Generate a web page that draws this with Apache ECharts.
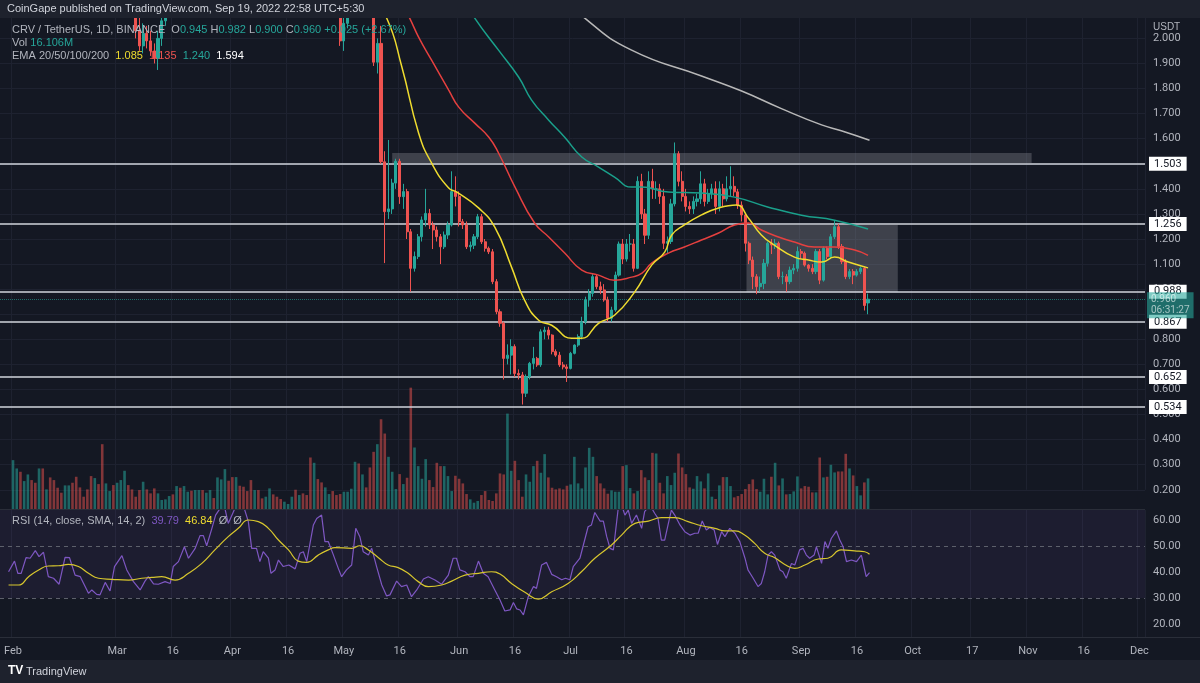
<!DOCTYPE html>
<html>
<head>
<meta charset="utf-8">
<script src="https://cdn.jsdelivr.net/npm/echarts@6/dist/echarts.min.js"></script>
<style>
  html, body { margin: 0; padding: 0; background: #1e222d; }
  #chart { width: 1200px; height: 683px; }
</style>
</head>
<body>
<div id="chart"></div>
<script>
// daily axis: 29 Jan 2022 .. 2 Dec 2022
var categories = [];
for (var i = 0; i < 308; i++) {
  categories.push(new Date(Date.UTC(2022, 0, 29) + i * 864e5).toISOString().slice(0, 10));
}
var firstCandle = 3; // 2022-02-01

var tickLabels = {
  '2022-02-01': 'Feb', '2022-03-01': 'Mar', '2022-03-16': '16', '2022-04-01': 'Apr', '2022-04-16': '16',
  '2022-05-01': 'May', '2022-05-16': '16', '2022-06-01': 'Jun', '2022-06-16': '16', '2022-07-01': 'Jul',
  '2022-07-16': '16', '2022-08-01': 'Aug', '2022-08-16': '16', '2022-09-01': 'Sep', '2022-09-16': '16',
  '2022-10-01': 'Oct', '2022-10-17': '17', '2022-11-01': 'Nov', '2022-11-16': '16', '2022-12-01': 'Dec'
};

// [open, close, low, high] from 1 Feb
var candles = [
  [2.90,3.00,2.85,3.05],[3.00,3.10,2.95,3.15],[3.10,2.95,2.90,3.15],[2.95,3.05,2.90,3.10],[3.05,3.20,3.00,3.25],
  [3.20,3.15,3.10,3.30],[3.15,3.10,3.00,3.25],[3.10,3.35,3.05,3.40],[3.35,3.25,3.20,3.45],[3.25,3.40,3.20,3.50],
  [3.40,3.20,3.10,3.45],[3.20,3.00,2.95,3.25],[3.00,2.85,2.80,3.05],[2.85,2.75,2.70,2.90],[2.75,2.95,2.70,3.00],
  [2.95,3.05,2.90,3.10],[3.05,2.85,2.80,3.10],[2.85,2.70,2.60,2.90],[2.70,2.60,2.55,2.75],[2.60,2.50,2.45,2.65],
  [2.50,2.45,2.35,2.55],[2.45,2.40,2.30,2.50],[2.40,2.55,2.35,2.60],[2.55,2.20,2.12,2.60],[2.20,2.15,2.10,2.35],
  [2.15,2.30,2.12,2.35],[2.30,2.40,2.25,2.45],[2.40,2.30,2.25,2.45],[2.30,2.45,2.25,2.50],[2.45,2.55,2.40,2.60],
  [2.55,2.60,2.50,2.65],[2.60,2.40,2.35,2.62],[2.40,2.25,2.20,2.42],[2.25,2.03,2.00,2.28],[2.03,1.97,1.95,2.10],
  [1.97,2.02,1.94,2.06],[2.02,1.99,1.96,2.05],[1.99,1.95,1.93,2.03],[1.95,1.92,1.90,1.98],[1.92,2.00,1.874,2.03],
  [2.00,2.07,1.97,2.10],[2.07,2.20,2.05,2.25],[2.20,2.25,2.15,2.30],[2.25,2.22,2.15,2.30],[2.22,2.35,2.20,2.40],
  [2.35,2.30,2.25,2.40],[2.30,2.45,2.28,2.50],[2.45,2.50,2.40,2.55],[2.50,2.45,2.40,2.55],[2.45,2.55,2.40,2.60],
  [2.55,2.60,2.50,2.65],[2.60,2.55,2.50,2.65],[2.55,2.70,2.50,2.75],[2.70,2.75,2.65,2.80],[2.75,2.65,2.60,2.80],
  [2.65,2.80,2.60,2.85],[2.80,2.85,2.75,2.90],[2.85,2.90,2.80,2.95],[2.90,2.80,2.75,2.95],[2.80,2.70,2.65,2.85],
  [2.70,2.75,2.65,2.80],[2.75,2.65,2.60,2.80],[2.65,2.55,2.50,2.70],[2.55,2.50,2.45,2.60],[2.50,2.40,2.35,2.55],
  [2.40,2.45,2.35,2.50],[2.45,2.35,2.30,2.50],[2.35,2.30,2.25,2.40],[2.30,2.35,2.25,2.40],[2.35,2.40,2.30,2.45],
  [2.40,2.38,2.33,2.45],[2.38,2.30,2.25,2.42],[2.30,2.28,2.22,2.35],[2.28,2.40,2.25,2.45],[2.40,2.45,2.35,2.50],
  [2.45,2.50,2.40,2.55],[2.50,2.42,2.38,2.55],[2.42,2.45,2.38,2.50],[2.45,2.40,2.35,2.50],[2.40,2.35,2.30,2.45],
  [2.35,2.30,2.25,2.40],[2.30,2.35,2.25,2.40],[2.35,2.25,2.20,2.40],[2.25,2.20,2.15,2.30],[2.20,2.25,2.15,2.30],
  [2.25,2.30,2.20,2.35],[2.30,2.20,2.15,2.35],[2.20,2.15,2.12,2.25],[2.15,1.99,1.97,2.20],[1.99,2.06,1.95,2.10],
  [2.06,2.15,2.04,2.20],[2.15,2.25,2.12,2.30],[2.25,2.30,2.20,2.35],[2.30,2.20,2.15,2.35],[2.20,2.25,2.15,2.30],
  [2.25,2.18,2.13,2.28],[2.18,2.15,2.12,2.22],[2.15,1.905,1.89,2.20],[1.905,1.98,1.86,2.00],[1.98,1.508,1.50,2.05],
  [1.508,1.309,1.104,1.55],[1.309,1.32,1.28,1.595],[1.32,1.423,1.30,1.44],[1.423,1.51,1.40,1.52],[1.51,1.369,1.34,1.52],
  [1.369,1.389,1.32,1.42],[1.389,1.229,1.20,1.40],[1.229,1.083,0.99,1.24],[1.083,1.13,1.07,1.15],[1.13,1.209,1.12,1.22],
  [1.209,1.276,1.19,1.29],[1.276,1.302,1.25,1.40],[1.302,1.256,1.24,1.32],[1.256,1.236,1.16,1.27],[1.236,1.209,1.19,1.25],
  [1.209,1.169,1.10,1.22],[1.169,1.216,1.16,1.23],[1.216,1.256,1.20,1.27],[1.256,1.389,1.25,1.47],[1.389,1.37,1.33,1.45],
  [1.37,1.269,1.25,1.39],[1.269,1.256,1.24,1.28],[1.256,1.169,1.16,1.27],[1.169,1.175,1.15,1.19],[1.175,1.209,1.16,1.22],
  [1.209,1.289,1.20,1.30],[1.289,1.189,1.18,1.30],[1.189,1.163,1.15,1.20],[1.163,1.149,1.14,1.17],[1.149,1.030,1.02,1.16],
  [1.030,0.910,0.90,1.04],[0.910,0.864,0.85,0.92],[0.864,0.724,0.64,0.87],[0.724,0.737,0.70,0.78],[0.737,0.771,0.66,0.80],
  [0.771,0.664,0.65,0.78],[0.664,0.658,0.64,0.68],[0.658,0.585,0.54,0.67],[0.585,0.651,0.57,0.66],[0.651,0.704,0.64,0.71],
  [0.704,0.724,0.68,0.77],[0.724,0.698,0.69,0.73],[0.698,0.830,0.69,0.84],[0.830,0.837,0.80,0.85],[0.837,0.817,0.80,0.85],
  [0.817,0.751,0.74,0.82],[0.751,0.737,0.73,0.76],[0.737,0.698,0.69,0.75],[0.698,0.69,0.68,0.71],[0.69,0.684,0.63,0.70],
  [0.684,0.744,0.68,0.75],[0.744,0.777,0.74,0.78],[0.777,0.811,0.77,0.82],[0.811,0.870,0.80,0.89],[0.870,0.957,0.86,0.97],
  [0.957,0.983,0.93,1.00],[0.983,1.050,0.97,1.06],[1.050,1.010,1.00,1.06],[1.010,0.997,0.98,1.03],[0.997,0.957,0.95,1.02],
  [0.957,0.884,0.87,0.97],[0.884,0.917,0.87,0.93],[0.917,1.056,0.91,1.07],[1.056,1.18,1.05,1.19],[1.18,1.12,1.10,1.20],
  [1.12,1.18,1.11,1.20],[1.18,1.18,1.15,1.22],[1.18,1.083,1.07,1.20],[1.083,1.43,1.08,1.45],[1.43,1.30,1.28,1.46],
  [1.30,1.215,1.18,1.32],[1.215,1.43,1.20,1.47],[1.43,1.40,1.36,1.48],[1.40,1.40,1.36,1.43],[1.40,1.37,1.34,1.42],
  [1.37,1.183,1.16,1.40],[1.183,1.19,1.14,1.21],[1.19,1.34,1.18,1.36],[1.34,1.54,1.33,1.585],[1.54,1.43,1.41,1.55],
  [1.43,1.37,1.35,1.47],[1.37,1.33,1.31,1.40],[1.33,1.32,1.30,1.35],[1.32,1.35,1.30,1.37],[1.35,1.36,1.33,1.38],
  [1.36,1.42,1.34,1.47],[1.42,1.35,1.33,1.44],[1.35,1.38,1.34,1.40],[1.38,1.40,1.36,1.42],[1.40,1.33,1.30,1.43],
  [1.33,1.40,1.31,1.43],[1.40,1.36,1.33,1.42],[1.36,1.40,1.35,1.45],[1.40,1.41,1.37,1.49],[1.41,1.388,1.37,1.45],
  [1.388,1.335,1.32,1.40],[1.335,1.296,1.27,1.35],[1.296,1.183,1.15,1.30],[1.183,1.116,1.10,1.19],[1.116,1.05,1.00,1.13],
  [1.05,1.01,0.98,1.06],[1.01,1.023,0.99,1.05],[1.023,1.103,1.00,1.12],[1.103,1.183,1.09,1.19],[1.183,1.176,1.14,1.20],
  [1.176,1.183,1.16,1.20],[1.183,1.05,1.04,1.19],[1.05,1.05,1.02,1.07],[1.05,1.03,0.99,1.06],[1.03,1.076,1.02,1.09],
  [1.076,1.083,1.06,1.10],[1.083,1.15,1.07,1.17],[1.15,1.143,1.12,1.16],[1.143,1.096,1.09,1.15],[1.096,1.083,1.07,1.10],
  [1.083,1.07,1.06,1.10],[1.07,1.15,1.06,1.16],[1.15,1.036,1.02,1.16],[1.036,1.163,1.03,1.17],[1.163,1.13,1.12,1.17],
  [1.13,1.209,1.12,1.22],[1.209,1.249,1.20,1.275],[1.249,1.17,1.16,1.26],[1.17,1.11,1.10,1.18],[1.11,1.05,1.04,1.12],
  [1.05,1.07,1.04,1.08],[1.07,1.056,1.02,1.08],[1.056,1.07,1.05,1.08],[1.07,1.083,1.06,1.09],[1.083,0.935,0.915,1.09],
  [0.945,0.960,0.900,0.982]
];

// volume
var volume = [
  150,125,115,87,107,90,82,125,125,62, 98,90,67,52,74,74,82,100,68,40, 62,102,96,78,198,80,57,75,82,90,
  118,75,62,40,60,85,62,50,65,50, 30,32,42,47,72,67,72,55,58,60, 60,60,52,60,36,98,92,123,88,99,
  99,73,70,57,90,60,60,35,40,65, 47,40,33,25,18,40,61,45,50,45, 158,142,93,83,68,48,57,45,48,55,
  55,64,145,140,107,68,128,175,198,273, 230,160,115,63,108,78,97,368,188,132, 94,153,90,69,142,132,
  132,102,57,103,94,80,48,32,22,27, 45,57,30,27,50,110,107,290,118,148, 90,40,107,85,132,148,112,168,98,67,
  62,65,62,73,77,160,80,65,128,187, 160,102,80,65,49,59,55,55,132,135, 66,50,57,120,98,90,172,170,82,50,
  102,75,112,170,128,108,68,64,102,86, 65,110,40,33,74,99,99,72,38,42, 48,63,78,92,63,55,94,47,100,142,
  74,95,47,48,56,101,65,72,70,53, 53,158,98,100,136,113,116,116,169,125, 104,72,44,83,95
];

// EMA lines [day slot, price]
var ema20 = [[98,2.2],[103.5,2.081],[107.6,1.886],[112.1,1.623],[115.6,1.503],[120.2,1.403],[122.4,1.387],[128.3,1.323],[132.6,1.247],[137.1,1.088],[140.6,0.956],[144.4,0.876],[147.9,0.856],[153.3,0.804],[155.9,0.804],[160.5,0.864],[164.8,0.896],[170.2,0.988],[174.8,1.096],[178.3,1.148],[180.2,1.216],[183.6,1.256],[188.2,1.296],[192.8,1.324],[197.6,1.336],[200.8,1.284],[204.3,1.216],[207.8,1.176],[213.2,1.128],[217,1.116],[220.5,1.108],[224,1.128],[227.7,1.108],[233,1.085]];
var ema50 = [[104,2.25],[109.7,2.081],[112.1,2.005],[115.6,1.913],[120.2,1.794],[122.9,1.726],[127.2,1.662],[131,1.606],[133.6,1.543],[138,1.408],[143.3,1.264],[147.1,1.208],[151.4,1.144],[156,1.076],[160.5,1.056],[164.8,1.036],[169.4,1.048],[172.2,1.064],[174.8,1.104],[179.3,1.144],[183.6,1.168],[188.2,1.196],[192.8,1.224],[197.1,1.256],[200.8,1.264],[204.3,1.236],[208.9,1.208],[213.2,1.188],[218.6,1.168],[224,1.168],[229.4,1.156],[233,1.135]];
var ema100 = [[120,2.25],[127.2,2.081],[133.6,1.953],[139,1.846],[142.5,1.754],[147.1,1.674],[151.4,1.606],[156,1.527],[160.5,1.487],[164.8,1.447],[169.4,1.407],[172.1,1.407],[179.3,1.387],[188.2,1.383],[197.1,1.367],[206.2,1.327],[215.1,1.295],[224,1.275],[233,1.240]];
var ema200 = [[145,2.25],[156.8,2.081],[169.4,1.953],[188.2,1.85],[199,1.79],[209.7,1.72],[220.5,1.655],[225.8,1.632],[233.4,1.594]];

var rsi = [[1.8,40.1],[3.4,44.2],[4.3,39.5],[5.2,39.5],[6.5,45.5],[7.6,45.3],[9,48.2],[10,45.9],[11.2,47.6],[12.5,38.2],[13.9,37.6],[15.4,35.3],[17,45.6],[18.2,45.5],[19.7,38.8],[21.1,38.2],[23.3,31.8],[24.2,33.1],[25.5,31.4],[26.4,31.2],[27.8,36],[29.1,32.7],[30.3,42.1],[32.3,46.3],[33.6,40.8],[35.4,36.3],[37.2,33.1],[38.5,36.5],[39.4,38.2],[40.8,35.4],[42.1,35.3],[43.9,36.3],[45.3,35.6],[46.1,42.1],[47.5,44],[49.1,49.7],[50.2,45.3],[52,49.1],[53.3,54],[54.2,54],[55.1,50.1],[56.5,56.8],[57.5,61.9],[58.4,63.8],[59.6,67],[60.9,58.7],[62.7,64.5],[64.5,67.7],[66.3,59.4],[67.2,49.1],[68.5,49.1],[69.4,44],[70.3,47.8],[71.7,45.3],[72.4,39.5],[73.5,40.8],[74.4,44.6],[75.7,42.1],[77.2,42.7],[78.9,41.2],[80.2,47.2],[81.1,47.8],[82,44],[83.8,58.1],[84.7,60.6],[86,61.9],[86.9,51.7],[87.8,51.7],[89.2,46.5],[90.5,41.4],[91.4,38.2],[92.7,40.8],[94.1,42.7],[95.2,56.8],[96.3,53.6],[97.2,47.8],[98.6,46.5],[99.5,49.1],[100.8,42.1],[102.2,35],[103.5,30.8],[104.4,31.2],[106.2,36.5],[107.5,34.4],[108.9,35],[110.2,30.5],[111.6,33.1],[113.4,37.3],[114.7,38.2],[116.5,36.9],[118.3,35.3],[120.1,38.8],[121.4,45.3],[122.3,45.3],[123.2,40.8],[124.6,40.1],[125.9,38.2],[126.8,38.2],[128.2,44.2],[129.5,39.5],[130.8,38.2],[132.6,33.1],[134,29.2],[135.3,25],[136.7,25.4],[137.6,28.3],[138.5,25.8],[139.4,25.4],[140.3,23.5],[141.6,30.5],[143,34.4],[143.8,33.7],[145.2,42.7],[146.5,43.7],[147.9,39.1],[149.2,38.2],[150.6,37],[151.6,37.6],[152.8,37],[153.7,42.1],[155.5,45.3],[157.7,57.4],[158.6,58.1],[159.5,62.9],[160.9,59.6],[161.8,59.6],[162.7,53.6],[163.6,49.1],[164.5,48.5],[165.8,64.5],[166.7,65.8],[167.6,61.9],[168.5,63.8],[169.4,58.7],[170.7,61.9],[172.1,56.8],[172.9,63.2],[174.3,65.8],[175.6,62.6],[176.5,60.6],[177.4,52.3],[178.3,52.3],[179.2,58.1],[180.1,63.8],[181,61.9],[182.4,58.1],[183.7,55.5],[185.1,54.2],[186.4,54.9],[187.3,54.9],[188.4,59.6],[189.5,56.2],[190.4,57.1],[191.6,56.2],[192.5,50.6],[193.6,55.5],[194.5,53.6],[195.8,56.8],[197.2,54.9],[198.5,51.7],[199.9,45.3],[200.7,40.8],[202.1,37.6],[203.4,34.4],[204.3,35.6],[205.2,40.1],[206.1,46.5],[207,47.8],[207.9,46.5],[209.3,40.8],[210.1,40.1],[211,37.6],[212.4,43.3],[213.3,42.7],[214.6,48.5],[215.5,49.1],[216.4,46.5],[217.3,45.3],[218.5,46.5],[219.1,49.7],[220.5,43.3],[221.4,51.7],[222.2,49.1],[223.1,52.9],[224.5,55.8],[225.4,52.3],[226.3,49.7],[227.2,44],[228.5,44.6],[229.9,44],[231.2,46.5],[232.5,38.2],[233.4,39.79]];
var rsiSma = [[1.8,35],[4.5,35],[7.2,38.2],[9.9,40.8],[12.5,42.3],[15.2,42.4],[17.9,42.9],[20.6,42.1],[23.3,39.5],[26,37.6],[29.6,37.2],[34.1,36.9],[37.6,37.6],[40.3,37.9],[43,38.2],[46.6,36.9],[50.2,39.5],[53.8,43.3],[57.3,48.5],[60.9,53.6],[63.6,56.8],[66.3,60],[69,59.4],[71.7,56.8],[74.4,52.3],[77.1,48.5],[79.7,44.2],[82,43.7],[85.1,46.5],[87.8,48.5],[89.6,49.4],[94.1,49.1],[96.3,50.1],[98.6,48.5],[101.3,45.5],[103.9,42.7],[106.6,41.7],[109.3,39.5],[112,36.3],[114.7,34.4],[118.3,35],[121,36.5],[124.6,38.8],[128.2,39.5],[131.7,40.1],[134,39.2],[137.1,35.6],[140.7,32.2],[144.3,29.6],[147.9,32.4],[152.3,35.6],[155.9,40.1],[159.5,45.3],[164,50.4],[166.7,54.2],[170.3,58.7],[173.9,59.6],[177.4,60.9],[181,60.9],[184.6,59.4],[188.2,57.8],[191.8,56.8],[194.5,55.8],[197.2,55.8],[199.8,54.2],[202.5,51],[205.2,47.2],[207.9,45.5],[210.6,42.9],[213.3,41.4],[216,42.7],[219.6,45],[222.2,45.3],[225.8,48.5],[229.4,48.1],[232.1,47.8],[233.4,46.84]];

var levels = ['1.503', '1.256', '0.988', '0.867', '0.652', '0.534'];
var lastPrice = 0.960;

var UP = '#26a69a', DOWN = '#ef5350';
var candleData = [], volData = [];
for (var i = 0; i < categories.length; i++) {
  var c = candles[i - firstCandle];
  if (!c) { candleData.push('-'); volData.push('-'); continue; }
  candleData.push(c);
  volData.push({ value: volume[i - firstCandle], itemStyle: { color: c[1] >= c[0] ? 'rgba(38,166,154,0.55)' : 'rgba(239,83,80,0.5)' } });
}

function isTick(idx, val) { return tickLabels[val] !== undefined; }
var lastSlot = categories.length - 0.5;

var chart = echarts.init(document.getElementById('chart'));
var option = {
  backgroundColor: '#141823',
  animation: false,
  textStyle: { fontFamily: 'Roboto, "Noto Sans", sans-serif' },
  grid: [
    { left: -2, right: 55, top: 13.3, height: 476.5 },
    { left: -2, right: 55, top: 387, height: 123 },
    { left: -2, right: 55, top: 510, height: 127 }
  ],
  xAxis: [
    { type: 'category', gridIndex: 0, data: categories, axisLine: { show: false }, axisTick: { show: false }, axisLabel: { show: false },
      splitLine: { show: true, interval: isTick, lineStyle: { color: '#1e2230' } } },
    { type: 'value', gridIndex: 0, min: -0.5, max: lastSlot, show: false },
    { type: 'category', gridIndex: 1, data: categories, show: false },
    { type: 'category', gridIndex: 2, data: categories, axisLine: { show: false }, axisTick: { show: false },
      axisLabel: { interval: isTick, formatter: function (v) { return tickLabels[v]; }, color: '#b2b5be', fontSize: 11, margin: 9 },
      splitLine: { show: true, interval: isTick, lineStyle: { color: '#1e2230' } } },
    { type: 'value', gridIndex: 2, min: -0.5, max: lastSlot, show: false }
  ],
  yAxis: [
    { type: 'value', gridIndex: 0, position: 'right', min: 0.2, max: 2.1, interval: 0.1,
      axisLine: { show: false }, axisTick: { show: false },
      axisLabel: { color: '#b2b5be', fontSize: 11, margin: 8,
        formatter: function (v) { return (v > 2.05 || Math.abs(v - 0.9) < 0.01) ? '' : v.toFixed(3); } },
      splitLine: { lineStyle: { color: '#1e2230' } } },
    { type: 'value', gridIndex: 1, min: 0, max: 370, show: false },
    { type: 'value', gridIndex: 2, position: 'right', min: 15, max: 63.85,
      axisLine: { show: false }, axisTick: { show: false }, splitLine: { show: false },
      axisLabel: { color: '#b2b5be', fontSize: 11, margin: 8, customValues: [20, 30, 40, 50, 60], formatter: function (v) { return v.toFixed(2); } } }
  ],
  series: [
    { type: 'bar', xAxisIndex: 2, yAxisIndex: 1, data: volData, barWidth: 2.6, z: 1 },
    { type: 'candlestick', xAxisIndex: 0, yAxisIndex: 0, data: candleData, barWidth: 2.6, z: 5,
      itemStyle: { color: UP, color0: DOWN, borderColor: UP, borderColor0: DOWN, borderWidth: 1 } },
    { name: 'levels', type: 'line', xAxisIndex: 1, yAxisIndex: 0, data: [], z: 8,
      markArea: { silent: true, itemStyle: { color: 'rgba(140,143,152,0.35)' },
        data: [
          [{ xAxis: 105, yAxis: 1.503 }, { xAxis: 277, yAxis: 1.543 }],
          [{ xAxis: 200.3, yAxis: 0.988 }, { xAxis: 241, yAxis: 1.256 }]
        ] },
      markLine: { symbol: 'none', silent: true,
        lineStyle: { color: '#d1d4dc', type: 'solid', width: 1.5 },
        label: { position: 'end', distance: 4, color: '#131722', backgroundColor: '#ffffff', padding: [2, 5, 1, 5], fontSize: 11, formatter: '{b}' },
        data: levels.map(function (v) { return { name: v, yAxis: Number(v) }; }) } },
    { name: 'last', type: 'line', xAxisIndex: 1, yAxisIndex: 0, data: [], z: 9,
      markLine: { symbol: 'none', silent: true,
        data: [{ yAxis: lastPrice, lineStyle: { color: UP, type: 'dotted', width: 1, opacity: 0.6 },
          label: { position: 'end', distance: 2, offset: [0, 6], formatter: '0.960\n06:31:27', color: '#fff', backgroundColor: UP, padding: [2, 4, 2, 4], lineHeight: 11, fontSize: 10 } }] } },
    { type: 'line', xAxisIndex: 1, yAxisIndex: 0, data: ema200, smooth: true, showSymbol: false, lineStyle: { color: '#b8b8b8', width: 1.5 }, z: 6 },
    { type: 'line', xAxisIndex: 1, yAxisIndex: 0, data: ema100, smooth: true, showSymbol: false, lineStyle: { color: '#1aa08b', width: 1.5 }, z: 6 },
    { type: 'line', xAxisIndex: 1, yAxisIndex: 0, data: ema50, smooth: true, showSymbol: false, lineStyle: { color: '#e5403f', width: 1.5 }, z: 6 },
    { type: 'line', xAxisIndex: 1, yAxisIndex: 0, data: ema20, smooth: true, showSymbol: false, lineStyle: { color: '#efdc2f', width: 1.5 }, z: 7 },
    { type: 'line', xAxisIndex: 4, yAxisIndex: 2, data: rsi, showSymbol: false, lineStyle: { color: '#7e57c2', width: 1.2 }, z: 5,
      markArea: { silent: true, itemStyle: { color: 'rgba(126,87,194,0.09)' }, data: [[{ yAxis: 30 }, { yAxis: 63.85 }]] },
      markLine: { symbol: 'none', silent: true, label: { show: false }, lineStyle: { color: '#5d606b', type: [4, 4], width: 1 },
        data: [{ yAxis: 50 }, { yAxis: 30 }] } },
    { type: 'line', xAxisIndex: 4, yAxisIndex: 2, data: rsiSma, smooth: true, showSymbol: false, lineStyle: { color: '#d8c72e', width: 1.2 }, z: 6 }
  ],
  graphic: [
    { type: 'rect', left: 0, top: 0, shape: { width: 1200, height: 18 }, style: { fill: '#1e222d' }, z: 100 },
    { type: 'rect', left: 0, top: 637, shape: { width: 1200, height: 1 }, style: { fill: '#2a2e39' }, z: 100 },
    { type: 'rect', left: 0, top: 660, shape: { width: 1200, height: 23 }, style: { fill: '#1e222d' }, z: 100 },
    { type: 'rect', left: 0, top: 509, shape: { width: 1145, height: 1 }, style: { fill: '#2a2e39' }, z: 100 },
    { type: 'text', left: 7, top: 3, z: 101, style: { text: 'CoinGape published on TradingView.com, Sep 19, 2022 22:58 UTC+5:30', fill: '#d1d4dc', fontSize: 11 } },
    { type: 'text', left: 12, top: 23, z: 101, style: {
      text: '{l|CRV / TetherUS, 1D, BINANCE  O}{v|0.945}{l| H}{v|0.982}{l| L}{v|0.900}{l| C}{v|0.960}{v| +0.025 (+2.67%)}\n{l|Vol }{v|16.106M}\n{l|EMA 20/50/100/200  }{y|1.085}{r|  1.135}{t|  1.240}{w|  1.594}',
      fontSize: 11, lineHeight: 13,
      rich: { l: { fill: '#b2b5be', fontSize: 11 }, v: { fill: '#26a69a', fontSize: 11 }, y: { fill: '#efdc2f', fontSize: 11 },
        r: { fill: '#ef5350', fontSize: 11 }, t: { fill: '#26a69a', fontSize: 11 }, w: { fill: '#ffffff', fontSize: 11 } } } },
    { type: 'text', left: 12, top: 515, z: 101, style: {
      text: '{l|RSI (14, close, SMA, 14, 2)  }{p|39.79}{y|  46.84}{l|  Ø  Ø}', fontSize: 11,
      rich: { l: { fill: '#b2b5be', fontSize: 11 }, p: { fill: '#7e57c2', fontSize: 11 }, y: { fill: '#efdc2f', fontSize: 11 } } } },
    { type: 'text', left: 8, top: 665, z: 101, style: { text: 'TV', fill: '#ffffff', fontSize: 12, fontWeight: 'bold' } },
    { type: 'text', left: 26, top: 666, z: 101, style: { text: 'TradingView', fill: '#d1d4dc', fontSize: 11 } },
    { type: 'text', left: 1153, top: 22, z: 101, style: { text: 'USDT', fill: '#b2b5be', fontSize: 10 } }
  ]
};
chart.setOption(option);
</script>
</body>
</html>
